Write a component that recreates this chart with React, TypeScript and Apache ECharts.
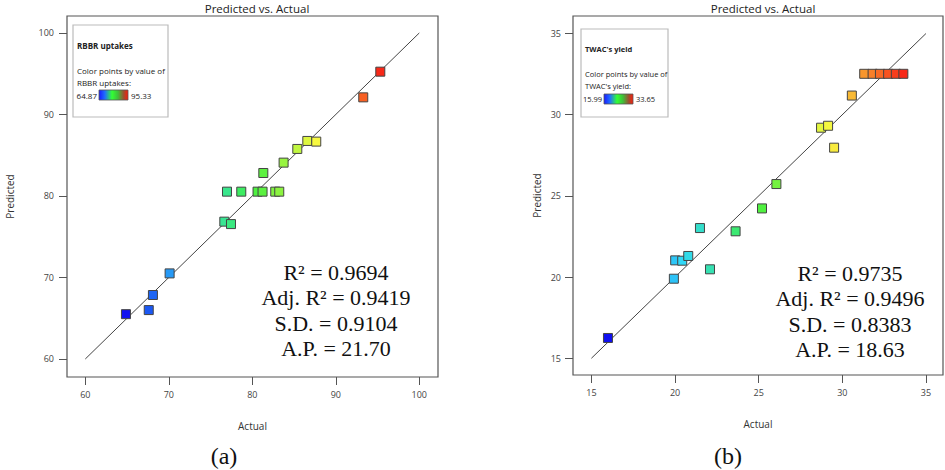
import React, { useEffect, useRef } from "react";
import * as echarts from "echarts";

// ---- data ----
const rbbrActual = [64.87, 67.6, 68.1, 70.1, 76.65, 77.45, 76.97, 78.68, 80.63, 81.23, 82.75, 83.23, 81.32, 83.75, 85.39, 86.59, 87.66, 93.29, 95.33];
const rbbrPredicted = [65.5, 66.0, 67.85, 70.5, 76.85, 76.55, 80.53, 80.53, 80.53, 80.53, 80.53, 80.53, 82.82, 84.09, 85.77, 86.75, 86.67, 92.1, 95.25];
const rbbrTicks = [60, 70, 80, 90, 100];
const rbbrRange = [64.87, 95.33];
const rbbrStats = ["R² = 0.9694", "Adj. R² = 0.9419", "S.D. = 0.9104", "A.P. = 21.70"];

const twacActual = [15.99, 19.93, 20.01, 20.43, 20.79, 21.49, 22.09, 23.62, 25.2, 26.06, 28.73, 29.15, 29.51, 30.57, 31.31, 31.81, 32.25, 32.74, 33.2, 33.65];
const twacPredicted = [16.25, 19.9, 21.03, 21.01, 21.3, 23.02, 20.48, 22.82, 24.23, 25.73, 29.2, 29.32, 27.97, 31.18, 32.52, 32.52, 32.52, 32.52, 32.52, 32.52];
const twacTicks = [15, 20, 25, 30, 35];
const twacRange = [15.99, 33.65];
const twacStats = ["R² = 0.9735", "Adj. R² = 0.9496", "S.D. = 0.8383", "A.P. = 18.63"];

const pointColors = ["#1010f0", "#30d8f8", "#40f040", "#f8f840", "#f82818"];
const SANS = '"Open Sans", "Noto Sans", sans-serif';
const SERIF = '"Liberation Serif", "DejaVu Serif", serif';

function zip(a: number[], b: number[]) {
  return a.map((v, i) => [v, b[i]]);
}

function axisPair(grid: number, ticks: number[], xr: number[], yr: number[], yGap: number, yMargin: number) {
  const tickStyle = { show: true, length: 8, lineStyle: { color: "#555", width: 1 } };
  const labelStyle = { fontSize: 9, color: "#444", fontFamily: SANS };
  return {
    x: {
      gridIndex: grid,
      type: "value",
      min: xr[0],
      max: xr[1],
      axisLine: { show: false },
      axisTick: { ...tickStyle, customValues: ticks },
      axisLabel: { ...labelStyle, customValues: ticks, margin: 13 },
      splitLine: { show: false },
      name: "Actual",
      nameLocation: "middle",
      nameGap: 44,
      nameTextStyle: { fontSize: 10, color: "#333", fontFamily: SANS },
    },
    y: {
      gridIndex: grid,
      type: "value",
      min: yr[0],
      max: yr[1],
      axisLine: { show: false },
      axisTick: { ...tickStyle, customValues: ticks },
      axisLabel: { ...labelStyle, customValues: ticks, margin: yMargin, padding: [0, 0, 8, 0] },
      splitLine: { show: false },
      name: "Predicted",
      nameLocation: "middle",
      nameGap: yGap,
      nameTextStyle: { fontSize: 10, color: "#333", fontFamily: SANS },
    },
  };
}

function legendBox(x: number, y: number, w: number, h: number, title: string, varName: string, range: number[], barX: number, fs: number) {
  const t = (tx: number, ty: number, text: string, bold = false, align = "left") => ({
    type: "text",
    x: tx,
    y: ty,
    style: {
      text,
      fontSize: fs,
      fontWeight: bold ? "bold" : "normal",
      fontFamily: SANS,
      fill: "#222",
      textAlign: align,
      align,
      textVerticalAlign: "middle",
      verticalAlign: "middle",
    },
  });
  return [
    { type: "rect", shape: { x, y, width: w, height: h }, style: { fill: "#fff", stroke: "#bbb", lineWidth: 1.2 } },
    t(x + 4, y + 20, title, true),
    t(x + 4, y + 45, "Color points by value of"),
    t(x + 4, y + 57, varName + ":"),
    t(barX - 2, y + 70, range[0].toFixed(2), false, "right"),
    {
      type: "rect",
      shape: { x: barX, y: y + 65, width: 29, height: 10 },
      style: {
        fill: new echarts.graphic.LinearGradient(0, 0, 1, 0, [
          { offset: 0, color: "#1a1aff" },
          { offset: 0.2, color: "#1f6cff" },
          { offset: 0.45, color: "#33ff33" },
          { offset: 0.65, color: "#3fbf3a" },
          { offset: 0.85, color: "#9a5030" },
          { offset: 1, color: "#ff1a0a" },
        ]),
        stroke: "#555",
        lineWidth: 0.8,
      },
    },
    t(barX + 32, y + 70, range[1].toFixed(2)),
  ];
}

function statsText(cx: number, y0: number, lines: string[]) {
  return lines.map((s, i) => ({
    type: "text",
    x: cx,
    y: y0 + i * 25.5,
    style: {
      text: s,
      fontSize: 22,
      fontFamily: SERIF,
      fill: "#111",
      textAlign: "center",
      align: "center",
      textVerticalAlign: "middle",
      verticalAlign: "middle",
    },
  }));
}

export default function App() {
  const ref = useRef<HTMLDivElement>(null);
  useEffect(() => {
    if (!ref.current) return;
    const chart = echarts.init(ref.current, undefined, { renderer: "svg" });
    const a = axisPair(0, rbbrTicks, [57.81, 102.24], [57.79, 102.08], 52, 13);
    const b = axisPair(1, twacTicks, [13.9, 36.02], [13.97, 36.08], 31, 12);
    const titleStyle = { fontSize: 11.5, fontWeight: "normal", color: "#222", fontFamily: SANS };
    const option: any = {
      animation: false,
      backgroundColor: "#fff",
      title: [
        { text: "Predicted vs. Actual", left: 252, top: -3, textAlign: "center", textStyle: titleStyle },
        { text: "Predicted vs. Actual", left: 758, top: -3, textAlign: "center", textStyle: titleStyle },
      ],
      grid: [
        { left: 67, top: 16, width: 371, height: 361, show: true, borderColor: "#555", borderWidth: 1.2, backgroundColor: "transparent" },
        { left: 573, top: 16, width: 370, height: 359, show: true, borderColor: "#555", borderWidth: 1.2, backgroundColor: "transparent" },
      ],
      xAxis: [a.x, b.x],
      yAxis: [a.y, b.y],
      visualMap: [
        { show: false, type: "continuous", seriesIndex: 1, dimension: 0, min: rbbrRange[0], max: rbbrRange[1], inRange: { color: pointColors } },
        { show: false, type: "continuous", seriesIndex: 3, dimension: 0, min: twacRange[0], max: twacRange[1], inRange: { color: pointColors } },
      ],
      series: [
        {
          type: "line", xAxisIndex: 0, yAxisIndex: 0, data: [[rbbrTicks[0], rbbrTicks[0]], [rbbrTicks[4], rbbrTicks[4]]],
          symbol: "none", lineStyle: { color: "#444", width: 1 }, silent: true, z: 1,
        },
        {
          type: "scatter", xAxisIndex: 0, yAxisIndex: 0, data: zip(rbbrActual, rbbrPredicted),
          symbol: "rect", symbolSize: 9, itemStyle: { borderColor: "#444", borderWidth: 1, opacity: 1 }, z: 2,
        },
        {
          type: "line", xAxisIndex: 1, yAxisIndex: 1, data: [[twacTicks[0], twacTicks[0]], [twacTicks[4], twacTicks[4]]],
          symbol: "none", lineStyle: { color: "#444", width: 1 }, silent: true, z: 1,
        },
        {
          type: "scatter", xAxisIndex: 1, yAxisIndex: 1, data: zip(twacActual, twacPredicted),
          symbol: "rect", symbolSize: 9, itemStyle: { borderColor: "#444", borderWidth: 1, opacity: 1 }, z: 2,
        },
      ],
      graphic: [
        ...legendBox(73, 25, 95, 92, "RBBR uptakes", "RBBR uptakes", rbbrRange, 99, 8),
        ...legendBox(581, 29, 87, 88, "TWAC's yield", "TWAC's yield", twacRange, 604, 7.5),
        ...statsText(336, 272, rbbrStats),
        ...statsText(850, 273, twacStats),
        { type: "text", x: 224, y: 456, style: { text: "(a)", fontSize: 24, fontFamily: SERIF, fill: "#111", textAlign: "center", align: "center", textVerticalAlign: "middle", verticalAlign: "middle" } },
        { type: "text", x: 728, y: 456, style: { text: "(b)", fontSize: 24, fontFamily: SERIF, fill: "#111", textAlign: "center", align: "center", textVerticalAlign: "middle", verticalAlign: "middle" } },
      ],
    };
    chart.setOption(option);
    return () => chart.dispose();
  }, []);
  return <div ref={ref} style={{ position: "fixed", left: 0, top: 0, width: 945, height: 470, background: "#fff" }} />;
}
